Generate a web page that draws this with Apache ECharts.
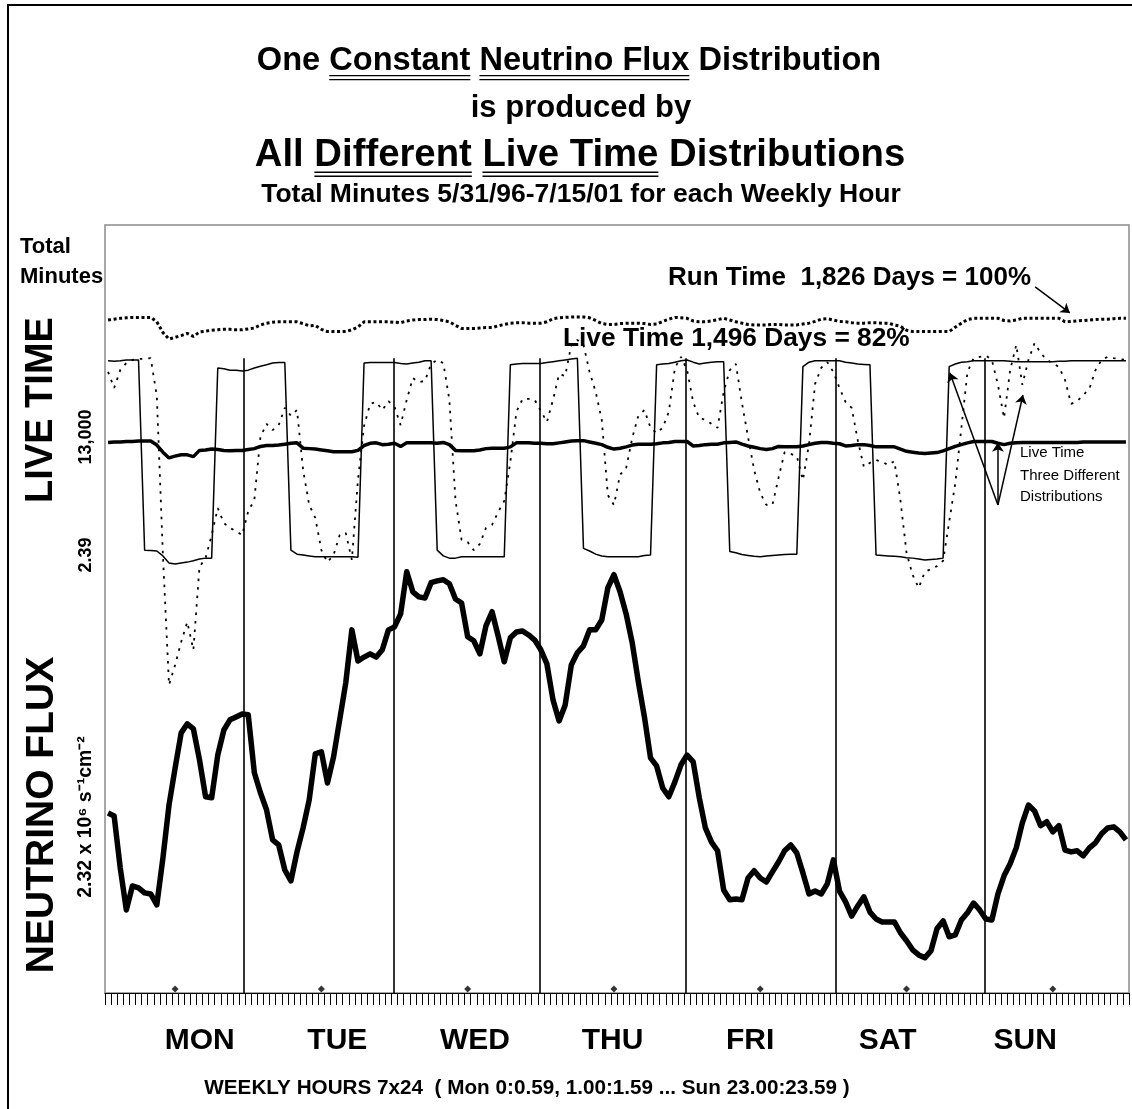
<!DOCTYPE html>
<html><head><meta charset="utf-8">
<script src="https://cdn.jsdelivr.net/npm/echarts@6/dist/echarts.min.js"></script>
<style>html,body{margin:0;padding:0;background:#fff}#c{width:1132px;height:1109px}</style>
</head><body><div id="c"></div>
<script>
// ---------------- DATA ----------------
const weeklyHours = Array.from({length: 168}, (_, h) => h);   // Mon 0:00 ... Sun 23:00
const dayNames = ['MON', 'TUE', 'WED', 'THU', 'FRI', 'SAT', 'SUN'];

// Run time, total minutes per weekly hour (dotted, top)
const runTimeMinutes = [
15630,15650,15670,15680,15690,15690,15690,15690,15590,15350,
15200,15240,15280,15330,15260,15360,15380,15400,15410,15420,
15420,15410,15410,15430,15450,15520,15560,15580,15590,15590,
15590,15590,15550,15500,15510,15420,15370,15370,15370,15370,
15410,15470,15590,15590,15590,15590,15590,15580,15570,15610,
15630,15640,15640,15650,15640,15620,15590,15510,15440,15440,
15440,15450,15460,15460,15500,15530,15560,15570,15570,15560,
15560,15560,15590,15660,15680,15690,15700,15700,15700,15680,
15620,15550,15530,15530,15550,15560,15560,15560,15550,15530,
15540,15600,15650,15690,15680,15670,15610,15590,15590,15610,
15640,15670,15630,15590,15560,15530,15520,15520,15520,15530,
15530,15520,15520,15520,15540,15560,15600,15650,15660,15630,
15600,15590,15570,15560,15560,15570,15570,15560,15560,15520,
15490,15400,15370,15370,15370,15370,15370,15370,15370,15470,
15560,15640,15670,15670,15670,15670,15670,15620,15610,15630,
15670,15670,15670,15670,15670,15670,15670,15590,15600,15610,
15620,15630,15640,15650,15650,15660,15670,15670];

// Live time actually used (thick solid)
const liveTimeMinutes = [
12870,12880,12880,12890,12890,12900,12900,12900,12810,12650,
12520,12560,12590,12590,12550,12690,12700,12720,12710,12690,
12680,12690,12690,12710,12730,12780,12800,12800,12810,12830,
12850,12860,12740,12730,12720,12700,12680,12660,12660,12660,
12660,12690,12800,12850,12860,12820,12830,12850,12780,12860,
12860,12860,12860,12860,12850,12870,12820,12690,12680,12680,
12680,12700,12730,12740,12740,12740,12770,12860,12860,12860,
12850,12850,12840,12840,12860,12880,12900,12910,12910,12880,
12850,12820,12760,12720,12740,12770,12810,12830,12830,12830,
12840,12860,12870,12890,12890,12890,12790,12800,12820,12830,
12830,12860,12870,12880,12830,12790,12760,12730,12710,12730,
12780,12770,12770,12770,12790,12820,12850,12870,12870,12850,
12840,12790,12800,12820,12820,12800,12770,12770,12770,12770,
12720,12670,12650,12630,12620,12630,12640,12680,12730,12780,
12820,12860,12890,12890,12890,12890,12850,12820,12850,12860,
12870,12870,12870,12870,12870,12870,12870,12870,12870,12870,
12880,12880,12880,12880,12880,12880,12880,12880];

// Different live time distribution #1: day / night (thin solid square wave)
const liveDayNightMinutes = [
14710,14700,14710,14730,14730,14730,
10440,10430,10420,10310,10150,10130,10150,10170,10200,10240,10260,10260,
14550,14530,14500,14500,14480,14500,14550,14590,14620,14660,14670,14670,
10440,10350,10330,10310,10290,10290,10290,10290,10290,10290,10290,10280,
14660,14670,14670,14670,14670,14670,14650,14640,14660,14680,14710,14710,
10440,10310,10260,10260,10290,10290,10290,10290,10290,10290,10290,10290,
14620,14640,14650,14650,14650,14650,14670,14690,14710,14730,14750,14770,
10480,10420,10350,10310,10290,10290,10290,10290,10290,10290,10320,10330,
14620,14640,14650,14680,14710,14730,14680,14640,14660,14680,14690,14690,
10410,10380,10340,10320,10300,10290,10310,10320,10330,10340,10350,10350,
14580,14680,14710,14710,14710,14710,14710,14680,14660,14640,14630,14620,
10330,10320,10310,10300,10290,10270,10260,10240,10220,10230,10240,10260,
14580,14640,14680,14690,14710,14710,14710,14710,14710,14710,14700,14690,
14690,14690,14690,14690,14690,14690,14700,14700,14710,14710,14710,14710,
14710,14710,14710,14710,14710,14710];

// Different live time distribution #2 (thin dotted)
const liveVaryingMinutes = [
14460,14100,14500,14660,14730,14750,14760,14770,13920,10330,
7400,7850,8370,8820,8190,10060,10260,10780,11390,11050,
10940,10870,10780,11320,11570,12990,13290,13150,13260,13650,
13470,13600,12250,11460,11170,10440,10170,10330,10780,10830,
10220,12020,13240,13740,13780,13600,13800,13670,13260,13830,
14320,14230,14260,14640,14730,14660,13830,11570,10670,10620,
10440,10580,10940,11010,11300,11550,12430,13560,13850,13850,
13830,13580,13330,13830,14410,14370,15070,15180,15070,14460,
14010,13380,11680,11460,12140,12290,12970,13470,13600,13200,
13080,13200,13560,14550,14800,14500,13780,13420,13380,13290,
13200,14010,14500,14640,13760,12990,12250,11730,11460,11460,
12070,12650,12610,12560,12020,12830,14190,14550,14680,14460,
14100,13780,13650,12920,12320,12410,12470,12430,12360,12450,
11570,10380,9880,9590,9950,10010,10080,10200,11080,11950,
13200,14460,14770,14800,14830,14730,14170,13420,14500,15070,
14170,14730,15110,14890,14730,14660,14570,14280,13740,13800,
13940,14080,14500,14730,14800,14770,14750,14730];

// Neutrino flux (x 10^6 s^-1 cm^-2), thick line
const neutrinoFlux = [
2.3151,2.3143,2.3000,2.2884,2.2950,2.2945,2.2931,2.2928,2.2898,2.3027,
2.3173,2.3275,2.3372,2.3397,2.3383,2.3298,2.3196,2.3193,2.3311,2.3380,
2.3408,2.3416,2.3424,2.3422,2.3262,2.3207,2.3160,2.3077,2.3063,2.2994,
2.2964,2.3044,2.3110,2.3187,2.3314,2.3320,2.3234,2.3306,2.3408,2.3510,
2.3656,2.3570,2.3581,2.3590,2.3581,2.3601,2.3656,2.3664,2.3700,2.3816,
2.3761,2.3747,2.3744,2.3786,2.3791,2.3794,2.3783,2.3741,2.3730,2.3637,
2.3626,2.3590,2.3667,2.3706,2.3639,2.3568,2.3634,2.3650,2.3653,2.3642,
2.3628,2.3601,2.3562,2.3463,2.3405,2.3449,2.3559,2.3593,2.3612,2.3656,
2.3656,2.3683,2.3772,2.3808,2.3761,2.3700,2.3620,2.3513,2.3416,2.3303,
2.3281,2.3220,2.3196,2.3237,2.3284,2.3311,2.3292,2.3193,2.3110,2.3071,
2.3047,2.2939,2.2912,2.2914,2.2912,2.2972,2.2992,2.2972,2.2961,2.2989,
2.3016,2.3047,2.3063,2.3041,2.2986,2.2928,2.2936,2.2928,2.2956,2.3022,
2.2936,2.2906,2.2867,2.2895,2.2920,2.2878,2.2859,2.2851,2.2851,2.2851,
2.2821,2.2799,2.2774,2.2760,2.2752,2.2771,2.2832,2.2854,2.2810,2.2815,
2.2856,2.2876,2.2903,2.2884,2.2859,2.2856,2.2928,2.2978,2.3011,2.3055,
2.3124,2.3173,2.3157,2.3116,2.3127,2.3099,2.3116,2.3049,2.3044,2.3047,
2.3033,2.3055,2.3069,2.3094,2.3110,2.3113,2.3099,2.3077];

// Day separator lines (weekly hour) and their top (minutes); midday markers
const dayBoundaryHours = [22.7, 47.3, 71.4, 95.3, 119.9, 144.4];
const dayLineTopMinutes = 14770;
const middayHours = [11.5, 35.5, 59.5, 83.5, 107.5, 131.5, 155.5];

// Annotation arrows (weekly hour, minutes)
const runTimeArrow = [[152.6, 16380], [158.3, 15790]];
const calloutOrigin = [146.5, 11460];
const calloutTargets = [[138.6, 14440], [146.5, 12860], [150.6, 13940]];

// ---------------- CHART ----------------
const FONT = '"Liberation Sans", Arial, Helvetica, sans-serif';
const minutesMin = 451, minutesMax = 17774;
const fluxMin = 2.2655, fluxMax = 2.4772;
const pts = arr => arr.map((v, k) => [weeklyHours[k] + 0.5, v]);

const mctx = document.createElement('canvas').getContext('2d');
function tw(t, size, weight) { mctx.font = (weight || 'bold') + ' ' + size + 'px ' + FONT; return mctx.measureText(t).width; }

const graphics = [];
function txt(t, x, y, size, opts) {
  opts = opts || {};
  graphics.push({
    type: 'text', x: x, y: y, rotation: opts.rotation || 0, z: 100,
    style: { text: t, font: (opts.weight || 'bold') + ' ' + size + 'px ' + FONT, fill: '#000',
      textAlign: opts.align || 'left', textVerticalAlign: 'middle', align: opts.align || 'left', verticalAlign: 'middle' }
  });
}
function titleRow(parts, cx, cy, size) {
  const widths = parts.map(p => tw(p.t, size));
  const total = widths.reduce((a, b) => a + b, 0);
  let x = cx - total / 2;
  parts.forEach((p, k) => {
    txt(p.t, x, cy, size);
    if (p.u) {
      const y1 = cy + size * 0.45, y2 = y1 + 4;
      [y1, y2].forEach(yy => graphics.push({ type: 'line', z: 100,
        shape: { x1: x, y1: yy, x2: x + widths[k], y2: yy }, style: { stroke: '#000', lineWidth: 1.4 } }));
    }
    x += widths[k];
  });
}
titleRow([{t: 'One '}, {t: 'Constant', u: true}, {t: ' '}, {t: 'Neutrino Flux', u: true}, {t: ' Distribution'}], 569, 61, 32.6);
titleRow([{t: 'is produced by'}], 581, 108, 31);
titleRow([{t: 'All '}, {t: 'Different', u: true}, {t: ' '}, {t: 'Live Time', u: true}, {t: ' Distributions'}], 580, 155, 38.3);
titleRow([{t: 'Total Minutes 5/31/96-7/15/01 for each Weekly Hour'}], 581, 195, 26.5);

txt('Total', 20, 247, 22);
txt('Minutes', 20, 277, 22);
txt('Run Time  1,826 Days = 100%', 668, 278, 26);
txt('Live Time 1,496 Days = 82%', 563, 339, 26.3);
txt('Live Time', 1020, 453, 15, {weight: 'normal'});
txt('Three Different', 1020, 476, 15, {weight: 'normal'});
txt('Distributions', 1020, 497, 15, {weight: 'normal'});

txt('LIVE TIME', 42, 410, 38, {align: 'center', rotation: Math.PI / 2});
txt('13,000', 86, 437, 18, {align: 'center', rotation: Math.PI / 2});
txt('2.39', 86, 555, 18, {align: 'center', rotation: Math.PI / 2});
txt('NEUTRINO FLUX', 42, 815, 39, {align: 'center', rotation: Math.PI / 2});
txt('2.32 x 10\u2076 s\u207B\u00B9cm\u207B\u00B2', 86, 817, 19.5, {align: 'center', rotation: Math.PI / 2});

txt('WEEKLY HOURS 7x24  ( Mon 0:0.59, 1.00:1.59 ... Sun 23.00:23.59 )', 527, 1088, 20.7, {align: 'center'});

// outer frame
graphics.push({ type: 'rect', z: 0, shape: { x: 8, y: 5, width: 1200, height: 1200 },
  style: { fill: 'none', stroke: '#000', lineWidth: 2 } });

const chart = echarts.init(document.getElementById('c'), null, {renderer: 'canvas'});
chart.setOption({
  animation: false,
  backgroundColor: '#fff',
  grid: [
    { left: 105, right: 3, top: 225, bottom: 116, show: true, borderColor: '#8a8a8a', borderWidth: 1.5, backgroundColor: 'transparent' },
    { left: 131, right: 38, top: 225, bottom: 116, show: false }
  ],
  xAxis: [
    { type: 'value', gridIndex: 0, min: 0, max: 168, interval: 1,
      axisLine: { show: true, onZero: false, lineStyle: { color: '#000', width: 1.2 } },
      axisTick: { show: true, length: 12, lineStyle: { color: '#000', width: 1 } },
      axisLabel: { show: false }, splitLine: { show: false } },
    { type: 'category', gridIndex: 1, data: dayNames, boundaryGap: true,
      axisLine: { show: false }, axisTick: { show: false },
      axisLabel: { margin: 33, fontSize: 30, fontWeight: 'bold', color: '#000', fontFamily: FONT } }
  ],
  yAxis: [
    { type: 'value', gridIndex: 0, min: minutesMin, max: minutesMax, show: false, splitLine: { show: false } },
    { type: 'value', gridIndex: 0, min: fluxMin, max: fluxMax, show: false, splitLine: { show: false } },
    { type: 'value', gridIndex: 1, show: false }
  ],
  graphic: { elements: graphics },
  series: [
    { name: 'Run Time', type: 'line', xAxisIndex: 0, yAxisIndex: 0, data: pts(runTimeMinutes), symbol: 'none',
      lineStyle: { color: '#000', width: 3, type: [3, 2.6] }, z: 3 },
    { name: 'Live Time day/night', type: 'line', xAxisIndex: 0, yAxisIndex: 0, data: pts(liveDayNightMinutes), symbol: 'none',
      lineStyle: { color: '#000', width: 1.5 }, z: 3 },
    { name: 'Live Time varying', type: 'line', xAxisIndex: 0, yAxisIndex: 0, data: pts(liveVaryingMinutes), symbol: 'none',
      lineStyle: { color: '#000', width: 1.8, type: [2.5, 6] }, z: 3 },
    { name: 'Live Time', type: 'line', xAxisIndex: 0, yAxisIndex: 0, data: pts(liveTimeMinutes), symbol: 'none',
      lineStyle: { color: '#000', width: 3.5 }, z: 4 },
    { name: 'Day lines', type: 'lines', coordinateSystem: 'cartesian2d', xAxisIndex: 0, yAxisIndex: 0,
      symbol: 'none', lineStyle: { color: '#000', width: 1.6, opacity: 1 }, z: 3,
      data: dayBoundaryHours.map(h => ({ coords: [[h, dayLineTopMinutes], [h, minutesMin]] })) },
    { name: 'Arrows', type: 'lines', coordinateSystem: 'cartesian2d', xAxisIndex: 0, yAxisIndex: 0,
      symbol: ['none', 'arrow'], symbolSize: 9, lineStyle: { color: '#000', width: 1.5, opacity: 1 }, z: 6,
      data: [{ coords: runTimeArrow }].concat(calloutTargets.map(t => ({ coords: [calloutOrigin, t] }))) },
    { name: 'Midday', type: 'scatter', xAxisIndex: 0, yAxisIndex: 0, symbol: 'diamond', symbolSize: 7,
      symbolOffset: [0, -4], itemStyle: { color: '#000' }, z: 5,
      data: middayHours.map(h => [h, minutesMin]) },
    { name: 'Neutrino Flux', type: 'line', xAxisIndex: 0, yAxisIndex: 1, data: pts(neutrinoFlux), symbol: 'none',
      lineStyle: { color: '#000', width: 5.5, join: 'round' }, z: 6 }
  ]
});
</script></body></html>
